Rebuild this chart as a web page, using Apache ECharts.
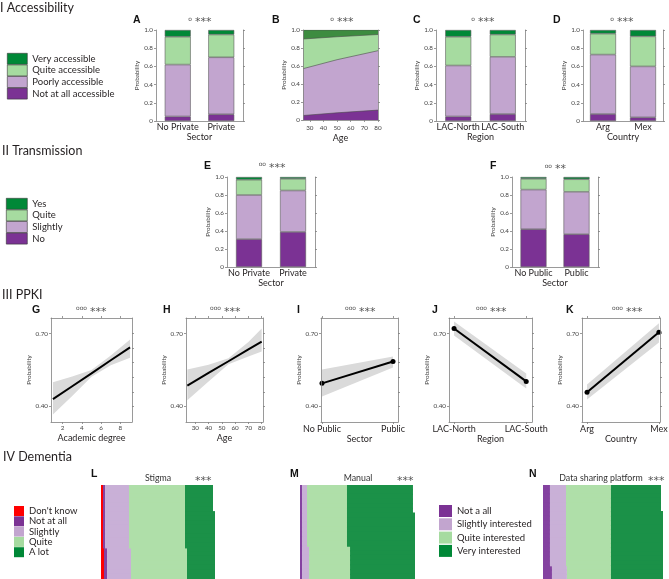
<!DOCTYPE html>
<html>
<head>
<meta charset="utf-8">
<script src="https://cdn.jsdelivr.net/npm/echarts@6/dist/echarts.min.js"></script>
<style>
  html, body { margin: 0; background: #fff; }
  #container { width: 669px; height: 579px; }
</style>
</head>
<body>
<div id="container"></div>
<script>
// ---- data ----
const accLevels = ['Not at all accessible', 'Poorly accessible', 'Quite accessible', 'Very accessible'];
const sectorCats = ['No Private', 'Private'];
const regionCats = ['LAC-North', 'LAC-South'];
const countryCats = ['Arg', 'Mex'];
const publicCats = ['No Public', 'Public'];

// share per answer level (bottom to top), one value per category
const accSector = [[0.05, 0.074], [0.57, 0.626], [0.306, 0.25], [0.074, 0.05]];
const accRegion = [[0.05, 0.077], [0.56, 0.628], [0.316, 0.245], [0.074, 0.05]];
const accCountry = [[0.077, 0.04], [0.653, 0.56], [0.23, 0.33], [0.04, 0.07]];
const ageYears = [25, 50, 80];
const accAge = [[0.05, 0.08, 0.11], [0.52, 0.59, 0.66], [0.33, 0.255, 0.18], [0.10, 0.075, 0.05]];
const ageTicks = [30, 40, 50, 60, 70, 80];

const trLevels = ['No', 'Slightly', 'Quite', 'Yes'];
const trSector = [[0.31, 0.39], [0.49, 0.46], [0.17, 0.13], [0.03, 0.02]];
const trPublic = [[0.42, 0.365], [0.44, 0.47], [0.12, 0.14], [0.02, 0.025]];

// PPKI: fitted probability and its band
const degreeX = [1, 3, 5, 7, 9];
const degreeFit = [0.43, 0.483, 0.536, 0.59, 0.643];
const degreeLo = [0.367, 0.443, 0.522, 0.57, 0.60];
const degreeHi = [0.50, 0.523, 0.55, 0.61, 0.676];
const degreeTicks = [2, 4, 6, 8];
const ppkiAgeX = [24, 40, 55, 70, 80];
const ppkiAgeFit = [0.486, 0.538, 0.586, 0.635, 0.667];
const ppkiAgeLo = [0.425, 0.503, 0.574, 0.606, 0.626];
const ppkiAgeHi = [0.552, 0.572, 0.598, 0.665, 0.721];
const sectorFit = [0.495, 0.585], sectorLo = [0.441, 0.56], sectorHi = [0.552, 0.606];
const regionFit = [0.721, 0.503], regionLo = [0.692, 0.474], regionHi = [0.75, 0.536];
const countryFit = [0.458, 0.705], countryLo = [0.429, 0.663], countryHi = [0.49, 0.742];
const probTicks = [0.40, 0.46, 0.52, 0.58, 0.64, 0.70];
const probLabels = [0.40, 0.70];

// IV Dementia: % of respondents per answer, three groups of rows
const stigmaLevels = ["Don't know", 'Not at all', 'Slightly', 'Quite', 'A lot'];
const stigmaRows = [[1.8, 1.8, 21.4, 50, 25], [1.8, 1.8, 21.4, 50, 26.8], [2.7, 2.7, 21.4, 50, 25]];
const stigmaSpan = [6, 8, 7];
const interestLevels = ['Not a all', 'Slightly interested', 'Quite interested', 'Very interested'];
const manualRows = [[1.8, 4.4, 35.4, 58.4], [1.8, 4.4, 35.4, 60.2], [1.8, 6.2, 36.3, 57.5]];
const manualSpan = [6, 7, 7];
const platformRows = [[5.9, 13.6, 38.1, 42.4], [5.9, 13.6, 38.1, 44.1], [7.6, 12.7, 37.3, 44.1]];
const platformSpan = [6, 12, 3];

// ---- style ----
const FONT = 'Lato, "Open Sans", sans-serif';
const INK = '#231f20';
const GREY = '#444';
const AXIS = '#808080';
const VERY = '#008837', QUITE = '#a6dba0', SLIGHT = '#c2a5cf', NOT = '#7b3294', DK = '#ff0000';
const PRGN = [NOT, SLIGHT, QUITE, VERY];
// dementia blocks are finely gridded in the original, so they read a little lighter
const DEM = ['#8442a0', '#c9b0d7', '#afdfa9', '#1b9148'];

const grid = [], xAxis = [], yAxis = [], series = [], graphic = [];
const line = { color: AXIS, width: 0.8 };

function addGrid(b) {
  return grid.push({ left: b[0], top: b[1], width: b[2], height: b[3], outerBoundsMode: 'none' }) - 1;
}

function probAxis(gi, extra) {
  return yAxis.push(Object.assign({
    gridIndex: gi, type: 'value', z: 5,
    axisLine: { show: true, onZero: false, lineStyle: line },
    axisTick: { show: true, length: 2, lineStyle: line },
    splitLine: { show: false },
    axisLabel: { fontSize: 6.3, color: GREY, fontFamily: FONT, margin: 3 },
    name: 'Probability', nameLocation: 'middle',
    nameTextStyle: { fontSize: 6.3, color: GREY, fontFamily: FONT }
  }, extra)) - 1;
}

function rightAxis(gi, min, max, extra) {
  yAxis.push(Object.assign({ gridIndex: gi, type: 'value', position: 'right', min, max, z: 5,
    axisLine: { show: true, onZero: false, lineStyle: line }, axisTick: { show: true, length: 2, lineStyle: line },
    axisLabel: { show: false }, splitLine: { show: false } }, extra));
}

const unitLabel = { fontSize: 6.3, color: GREY, fontFamily: FONT, margin: 3, formatter: v => v === 0 ? '0' : v.toFixed(1) };

function stackedBars(b, cats, axisName, levels, vals, colors) {
  const gi = addGrid(b);
  const xi = xAxis.push({
    gridIndex: gi, type: 'category', data: cats, z: 5,
    axisLine: { show: true, onZero: false, lineStyle: line },
    axisTick: { show: false }, splitLine: { show: false },
    axisLabel: { fontSize: 9, color: INK, fontFamily: FONT, margin: 2, interval: 0 },
    name: axisName, nameLocation: 'middle', nameGap: 11,
    nameTextStyle: { fontSize: 9, color: INK, fontFamily: FONT }
  }) - 1;
  const yi = probAxis(gi, { min: 0, max: 1, interval: 0.2, nameGap: 16, axisLabel: unitLabel });
  rightAxis(gi, 0, 1, { interval: 0.2 });
  levels.forEach((name, k) => series.push({
    type: 'bar', name, xAxisIndex: xi, yAxisIndex: yi, stack: 'g' + gi, barWidth: 26, silent: true,
    data: vals[k],
    itemStyle: { color: colors[k], borderColor: '#5c5c5c', borderWidth: 0.6 }
  }));
}

function stackedArea(b, xs, ticks, axisName, levels, vals, colors) {
  const gi = addGrid(b);
  const xi = xAxis.push({
    gridIndex: gi, type: 'value', min: xs[0], max: xs[xs.length - 1], z: 5,
    axisLine: { show: true, onZero: false, lineStyle: line },
    axisTick: { show: true, length: 2, lineStyle: line, customValues: ticks },
    splitLine: { show: false },
    axisLabel: { customValues: ticks, fontSize: 6.3, color: GREY, fontFamily: FONT, margin: 5 },
    name: axisName, nameLocation: 'middle', nameGap: 14,
    nameTextStyle: { fontSize: 9, color: INK, fontFamily: FONT }
  }) - 1;
  const yi = probAxis(gi, { min: 0, max: 1, interval: 0.2, nameGap: 16, axisLabel: unitLabel });
  rightAxis(gi, 0, 1, { interval: 0.2 });
  // cumulative tops, drawn from the highest level down so each lower area covers the one above
  const cum = levels.map((_, k) => xs.map((x, i) => vals.slice(0, k + 1).reduce((s, v) => s + v[i], 0)));
  for (let k = levels.length - 1; k >= 0; k--) {
    series.push({
      type: 'line', name: levels[k], xAxisIndex: xi, yAxisIndex: yi, symbol: 'none', silent: true,
      data: xs.map((x, i) => [x, cum[k][i]]),
      lineStyle: { color: '#4a4a4a', width: 0.6 },
      areaStyle: { color: colors[k], opacity: 1, origin: 'start' }
    });
  }
}

function ppki(b, xr, xs, fit, lo, hi, ticks, fmt, dots, axisName, bigLabels) {
  const gi = addGrid(b);
  const lab = bigLabels
    ? { fontSize: 9, color: INK, fontFamily: FONT, margin: 3 }
    : { fontSize: 6.3, color: GREY, fontFamily: FONT, margin: 3 };
  const xi = xAxis.push({
    gridIndex: gi, type: 'value', min: xr[0], max: xr[1], z: 5,
    axisLine: { show: true, onZero: false, lineStyle: line },
    axisTick: { show: true, length: 2, lineStyle: line, customValues: ticks },
    splitLine: { show: false },
    axisLabel: Object.assign({ customValues: ticks, formatter: fmt }, lab),
    name: axisName, nameLocation: 'middle', nameGap: 12,
    nameTextStyle: { fontSize: 9, color: INK, fontFamily: FONT }
  }) - 1;
  xAxis.push({
    gridIndex: gi, type: 'value', position: 'top', min: xr[0], max: xr[1], z: 5,
    axisLine: { show: true, onZero: false, lineStyle: line },
    axisTick: { show: true, length: 2, lineStyle: line, customValues: ticks },
    axisLabel: { show: false }, splitLine: { show: false }
  });
  const yi = probAxis(gi, { min: 0.336, max: 0.764, nameGap: 14,
    axisTick: { show: true, length: 2, lineStyle: line, customValues: probLabels },
    axisLabel: { customValues: probLabels, formatter: v => v.toFixed(2), fontSize: 6.3, color: GREY, fontFamily: FONT, margin: 3 } });
  rightAxis(gi, 0.336, 0.764, { axisTick: { show: true, length: 2, lineStyle: line, customValues: probTicks } });
  // grey confidence band as one polygon placed through the axes
  series.push({
    type: 'custom', xAxisIndex: xi, yAxisIndex: yi, silent: true, z: 1,
    data: xs.map((x, i) => [x, lo[i], hi[i]]),
    encode: { x: 0, y: [1, 2] },
    renderItem: (params, api) => {
      if (params.dataIndex !== 0) return null;
      const upper = xs.map((x, i) => api.coord([x, hi[i]]));
      const lower = xs.map((x, i) => api.coord([x, lo[i]])).reverse();
      return { type: 'polygon', shape: { points: upper.concat(lower) }, style: { fill: '#dadada' } };
    }
  }, {
    type: 'line', xAxisIndex: xi, yAxisIndex: yi, silent: true, z: 3,
    symbol: dots ? 'circle' : 'none', symbolSize: 5,
    itemStyle: { color: '#000' }, lineStyle: { color: '#000', width: 2 },
    data: xs.map((x, i) => [x, fit[i]])
  });
}

function likertRows(b, max, levels, rows, span, colors) {
  const gi = addGrid(b);
  const cats = [];
  rows.forEach((r, ri) => { for (let s = 0; s < span[ri]; s++) cats.push(ri + '-' + s); });
  const band = b[3] / cats.length;
  const xi = xAxis.push({ gridIndex: gi, type: 'value', min: 0, max, show: false }) - 1;
  const yi = yAxis.push({ gridIndex: gi, type: 'category', data: cats, inverse: true, show: false }) - 1;
  levels.forEach((name, k) => {
    const data = [];
    rows.forEach((r, ri) => { for (let s = 0; s < span[ri]; s++) data.push(r[k]); });
    series.push({
      type: 'bar', name, xAxisIndex: xi, yAxisIndex: yi, stack: 'r' + gi, silent: true,
      barWidth: Math.ceil(band) + 1, data, itemStyle: { color: colors[k] }
    });
  });
}

function text(x, y, str, st) {
  graphic.push({ type: 'text', x, y, silent: true,
    style: Object.assign({ text: str, fontSize: 9, fontFamily: FONT, fill: INK,
      textAlign: 'left', align: 'left', textVerticalAlign: 'top', verticalAlign: 'top' }, st || {}) });
}

function sig(x, y, circles, stars) {
  text(x - 3, y - 0.5, circles, { fontSize: 6, fontFamily: 'DejaVu Sans', fill: '#555',
    textAlign: 'right', align: 'right', textVerticalAlign: 'middle', verticalAlign: 'middle' });
  text(x, y + 3, stars, { fontSize: 11, fontFamily: 'DejaVu Sans', fill: '#555',
    textVerticalAlign: 'middle', verticalAlign: 'middle' });
}

// ---- panels ----
stackedBars([156, 30, 87, 91], sectorCats, 'Sector', accLevels, accSector, PRGN);
stackedArea([303, 30, 75, 90], ageYears, ageTicks, 'Age', accLevels, accAge, [NOT, SLIGHT, QUITE, '#3d8c40']);
stackedBars([436, 30, 89, 91], regionCats, 'Region', accLevels, accRegion, PRGN);
stackedBars([583, 30, 80, 91], countryCats, 'Country', accLevels, accCountry, PRGN);
stackedBars([227, 177, 88, 90], sectorCats, 'Sector', trLevels, trSector, PRGN);
stackedBars([512, 177, 86, 90], publicCats, 'Sector', trLevels, trPublic, PRGN);

ppki([51, 318, 81, 104], [0.8, 9.2], degreeX, degreeFit, degreeLo, degreeHi, degreeTicks, v => v, false, 'Academic degree', false);
ppki([186, 318, 77, 104], [23, 81], ppkiAgeX, ppkiAgeFit, ppkiAgeLo, ppkiAgeHi, ageTicks, v => v, false, 'Age', false);
ppki([321, 318, 77, 104], [-0.014, 1.07], [0, 1], sectorFit, sectorLo, sectorHi, [0, 1], v => publicCats[Math.round(v)], true, 'Sector', true);
ppki([449, 318, 83, 104], [-0.07, 1.08], [0, 1], regionFit, regionLo, regionHi, [0, 1], v => regionCats[Math.round(v)], true, 'Region', true);
ppki([582, 318, 78, 104], [-0.07, 1.015], [0, 1], countryFit, countryLo, countryHi, [0, 1], v => countryCats[Math.round(v)], true, 'Country', true);

likertRows([101, 485, 114, 94], 101.8, stigmaLevels, stigmaRows, stigmaSpan, [DK].concat(DEM));
likertRows([300, 485, 115, 94], 101.8, interestLevels, manualRows, manualSpan, DEM);
likertRows([543, 485, 120, 94], 101.7, interestLevels, platformRows, platformSpan, DEM);

// ---- texts ----
[['I Accessibility', 0, 1], ['II Transmission', 2, 144], ['III PPKI', 2, 288], ['IV Dementia', 3, 450]]
  .forEach(s => text(s[1], s[2], s[0], { fontSize: 12.5 }));
[['A', 133, 15], ['B', 272, 15], ['C', 413, 15], ['D', 553, 15], ['E', 204, 161], ['F', 490, 161],
 ['G', 32, 305], ['H', 163, 305], ['I', 297, 305], ['J', 432, 305], ['K', 566, 305],
 ['L', 91, 469], ['M', 290, 469], ['N', 529, 469]]
  .forEach(s => text(s[1], s[2], s[0], { fontSize: 10.5, fontWeight: 'bold', fontFamily: '"Liberation Sans", Arial, sans-serif', fill: '#111' }));
[[195, 19.5, 'o', '***'], [337, 19.5, 'o', '***'], [478, 19.5, 'o', '***'], [617, 19.5, 'o', '***'],
 [269, 165, 'oo', '***'], [555, 166.5, 'oo', '**'],
 [90, 309, 'ooo', '***'], [224, 309, 'ooo', '***'], [359, 309, 'ooo', '***'], [490, 309, 'ooo', '***'], [626, 309, 'ooo', '***']]
  .forEach(s => sig(s[0], s[1], s[2], s[3]));
[['Stigma', 158, 195], ['Manual', 358, 397], ['Data sharing platform', 601, 648]].forEach(s => {
  text(s[1], 478, s[0], { fontSize: 8.8, fill: '#333', textAlign: 'center', align: 'center', textVerticalAlign: 'middle', verticalAlign: 'middle' });
  text(s[2], 481, '***', { fontSize: 11, fontFamily: 'DejaVu Sans', fill: '#555', textVerticalAlign: 'middle', verticalAlign: 'middle' });
});

// ---- legends ----
function legend(left, top, w, h, gap, names, colors, border) {
  return {
    left, top, orient: 'vertical', padding: 0, itemGap: gap, itemWidth: w, itemHeight: h,
    selectedMode: false, icon: 'rect',
    textStyle: { fontSize: 9.5, color: INK, fontFamily: FONT, lineHeight: h },
    data: names.map((n, i) => ({ name: n, icon: 'rect',
      itemStyle: { color: colors[i], borderColor: border ? '#333' : colors[i], borderWidth: border ? 0.6 : 0 } }))
  };
}
const legends = [
  legend(7, 53, 20, 11, 0, accLevels.slice().reverse(), PRGN.slice().reverse(), true),
  legend(6, 198, 21, 11, 0, trLevels.slice().reverse(), PRGN.slice().reverse(), true),
  legend(14, 506, 10, 10, 0.3, stigmaLevels, [DK, NOT, SLIGHT, QUITE, VERY], false),
  legend(439, 505, 13, 12, 1.3, interestLevels, PRGN, false)
];

const chart = echarts.init(document.getElementById('container'), null, { renderer: 'canvas' });
chart.setOption({
  animation: false,
  textStyle: { fontFamily: FONT },
  grid, xAxis, yAxis, series,
  legend: legends,
  graphic: { elements: graphic }
});
</script>
</body>
</html>
